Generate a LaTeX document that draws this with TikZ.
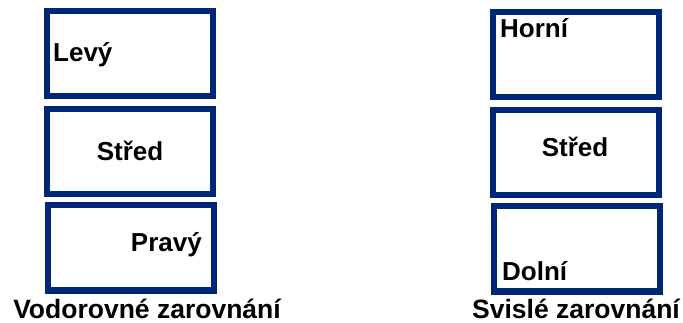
\documentclass[tikz,border=0pt]{standalone}
\usepackage{fontspec}
\setmainfont{Liberation Sans}
\definecolor{navy}{RGB}{0,38,119}
\begin{document}
\begin{tikzpicture}[x=1pt,y=-1pt,
  frame/.style={draw=navy,line width=6pt,rectangle,minimum width=166pt,minimum height=85pt,inner sep=0pt,outer sep=0pt},
  lbl/.style={inner sep=0pt,font=\fontsize{26}{30}\selectfont\bfseries},
  captext/.style={inner sep=0pt,font=\fontsize{26.5}{30}\selectfont\bfseries}]
\useasboundingbox (0,0) rectangle (683,323);
\node[frame] (l1) at (130,53.5) {};
\node[frame] (l2) at (130,151.5) {};
\node[frame] (l3) at (131,248) {};
\node[frame] (r1) at (576,54.5) {};
\node[frame] (r2) at (576,152.5) {};
\node[frame] (r3) at (577,249) {};
\node[lbl,anchor=base west] (tl1) at (53,62) {Levý};
\node[lbl,anchor=base] (tl2) at (130,161) {Střed};
\node[lbl,anchor=base east] (tl3) at (202,252) {Pravý};
\node[lbl,anchor=base west] (tr1) at (500,38) {Horní};
\node[lbl,anchor=base] (tr2) at (575,157) {Střed};
\node[lbl,anchor=base west] (tr3) at (502,280) {Dolní};
\node[captext,anchor=base] (c1) at (147,318) {Vodorovné zarovnání};
\node[captext,anchor=base] (c2) at (576,318) {Svislé zarovnání};
\end{tikzpicture}
\end{document}
